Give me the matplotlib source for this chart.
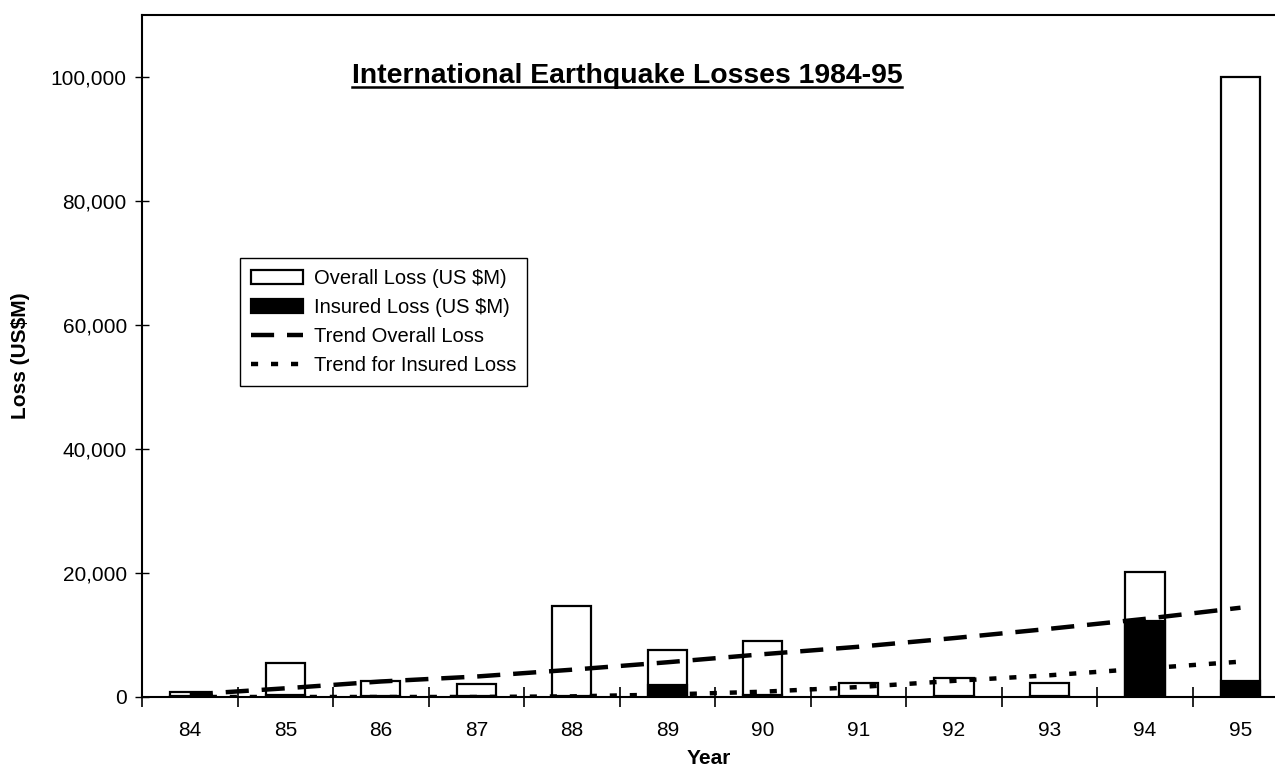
import numpy as np
import matplotlib.pyplot as plt
from matplotlib.ticker import FuncFormatter

plt.rcParams['font.family'] = ['Liberation Sans', 'DejaVu Sans']

years = ['84', '85', '86', '87', '88', '89', '90', '91', '92', '93', '94', '95']
overall_loss = [800, 5500, 2600, 2100, 14600, 7500, 9100, 2300, 3000, 2300, 20200, 100000]
insured_loss = [100, 300, 100, 200, 100, 1900, 300, 100, 100, 100, 12300, 2500]
trend_overall = [400, 1400, 2500, 3300, 4400, 5600, 6900, 8100, 9500, 11000, 12600, 14400]
trend_insured = [0, 0, 0, 0, 100, 400, 850, 1600, 2600, 3500, 4600, 5700]

fig = plt.figure(figsize=(12.75, 7.74), dpi=100)
ax = fig.add_axes([0.1114, 0.0995, 0.899, 0.8811])

x = np.arange(len(years))
w = 0.41
b1 = ax.bar(x, overall_loss, width=w, color='white', edgecolor='black', linewidth=1.6,
            label='Overall Loss (US $M)', zorder=2)
b2 = ax.bar(x, insured_loss, width=w, color='black', edgecolor='black', linewidth=1.6,
            label='Insured Loss (US $M)', zorder=3)
l1, = ax.plot(x, trend_overall, color='black', linewidth=3.2, dashes=(5.2, 2.9),
              label='Trend Overall Loss', zorder=4)
l2, = ax.plot(x, trend_insured, color='black', linewidth=3.2, dashes=(1.6, 2.9),
              label='Trend for Insured Loss', zorder=4)

ax.set_xlim(-0.5, 11.5)
ax.set_ylim(0, 110000)
ax.set_yticks([0, 20000, 40000, 60000, 80000, 100000])
ax.yaxis.set_major_formatter(FuncFormatter(lambda v, p: f'{int(v):,}'))
ax.set_xticks(x)
ax.set_xticklabels(years)
ax.set_xticks(np.arange(-0.5, 11.6, 1.0), minor=True)
ax.tick_params(axis='x', which='major', length=0, pad=17, labelsize=15)
ax.tick_params(axis='x', which='minor', direction='inout', length=14, width=1.2)
ax.tick_params(axis='y', direction='inout', length=10, width=1.0, labelsize=15, pad=6)

for side in ['left', 'bottom', 'top']:
    ax.spines[side].set_linewidth(1.5)
ax.spines['right'].set_visible(False)

ax.set_xlabel('Year', fontsize=15, fontweight='bold')
ax.xaxis.set_label_coords(0.4948, -0.0765)
ax.set_ylabel('Loss (US$M)', fontsize=15, fontweight='bold')
ax.yaxis.set_label_coords(-0.0975, 0.5)

# underlined title
ax.text(0.4232, 0.9003, 'International Earthquake Losses 1984-95', transform=ax.transAxes,
        ha='center', va='baseline', fontsize=20.4, fontweight='bold')
ax.plot([0.1832, 0.6632], [0.8944, 0.8944], transform=ax.transAxes, color='black',
        linewidth=1.8, clip_on=False)

leg = ax.legend([b1, b2, l1, l2],
                ['Overall Loss (US $M)', 'Insured Loss (US $M)', 'Trend Overall Loss',
                 'Trend for Insured Loss'],
                loc='upper left', bbox_to_anchor=(0.0855, 0.644), fontsize=14.5,
                frameon=True, fancybox=False, edgecolor='black', framealpha=1,
                borderpad=0.55, labelspacing=0.5, handlelength=2.6, handletextpad=0.5,
                borderaxespad=0)
leg.get_frame().set_linewidth(1.0)

fig.savefig('out.png', dpi=100)
